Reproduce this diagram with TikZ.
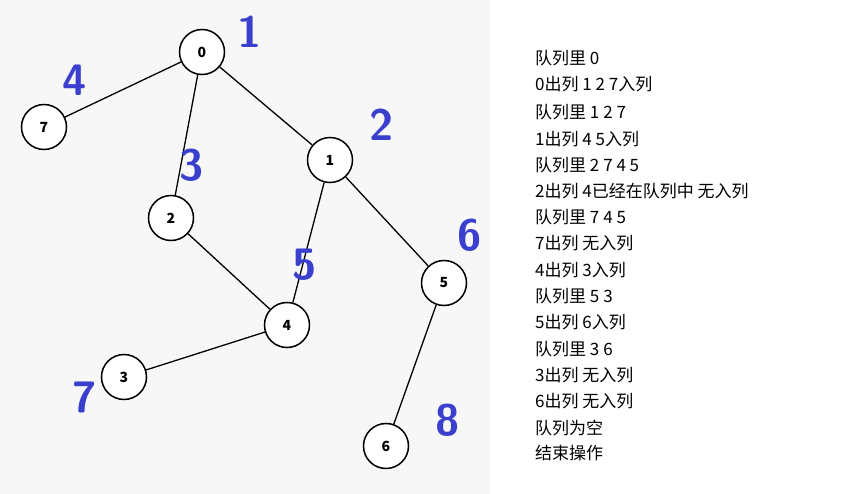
\documentclass[tikz,border=0pt]{standalone}
\usepackage{fontspec}
\setmainfont{Noto Sans CJK SC}
\begin{document}
\begin{tikzpicture}[x=1pt,y=-1pt,
  vert/.style={circle,draw,line width=1.5pt,fill=white,minimum size=45pt,inner sep=0pt,font=\fontsize{14}{16}\selectfont\bfseries},
  edge/.style={line width=1.3pt},
  hw/.style={font=\fontsize{44}{44}\selectfont\sffamily\bfseries},
  line/.style={anchor=west,font=\fontsize{17}{19}\selectfont,inner sep=0pt}]
\useasboundingbox (0,0) rectangle (851,494);
\fill[gray!6] (0,0) rectangle (490,494);
\node[vert] (n0) at (202,52) {0};
\node[vert] (n7) at (44,127) {7};
\node[vert] (n1) at (330,160) {1};
\node[vert] (n2) at (171,218) {2};
\node[vert] (n5) at (444,283) {5};
\node[vert] (n4) at (287,325) {4};
\node[vert] (n3) at (124,377) {3};
\node[vert] (n6) at (386,446) {6};
\draw[edge] (n0)--(n7); \draw[edge] (n0)--(n1); \draw[edge] (n0)--(n2);
\draw[edge] (n1)--(n4); \draw[edge] (n1)--(n5); \draw[edge] (n2)--(n4);
\draw[edge] (n4)--(n3); \draw[edge] (n5)--(n6);
\definecolor{hb}{RGB}{58,64,205}
\node[hw,text=hb] (h1) at (250,32) {1};
\node[hw,text=hb] (h4) at (75,80) {4};
\node[hw,text=hb] (h2) at (382,125) {2};
\node[hw,text=hb] (h3) at (192,165) {3};
\node[hw,text=hb] (h6) at (470,235) {6};
\node[hw,text=hb] (h5) at (305,265) {5};
\node[hw,text=hb] (h7) at (85,397) {7};
\node[hw,text=hb] (h8) at (448,420) {8};
\node[line] (t1) at (535,58) {队列里 0};
\node[line] (t2) at (535,84) {0出列 1 2 7入列};
\node[line] (t3) at (535,112) {队列里 1 2 7};
\node[line] (t4) at (535,139) {1出列 4 5入列};
\node[line] (t5) at (535,165) {队列里 2 7 4 5};
\node[line] (t6) at (535,191) {2出列 4已经在队列中 无入列};
\node[line] (t7) at (535,217) {队列里 7 4 5};
\node[line] (t8) at (535,243) {7出列 无入列};
\node[line] (t9) at (535,270) {4出列 3入列};
\node[line] (t10) at (535,296) {队列里 5 3};
\node[line] (t11) at (535,322) {5出列 6入列};
\node[line] (t12) at (535,349) {队列里 3 6};
\node[line] (t13) at (535,375) {3出列 无入列};
\node[line] (t14) at (535,401) {6出列 无入列};
\node[line] (t15) at (535,428) {队列为空};
\node[line] (t16) at (535,453) {结束操作};
\end{tikzpicture}
\end{document}
